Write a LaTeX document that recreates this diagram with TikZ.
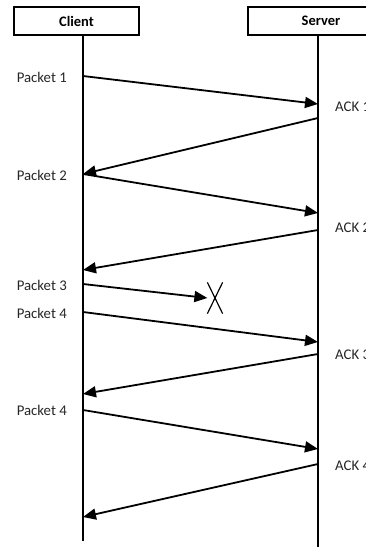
\documentclass[tikz,border=0pt]{standalone}
\usepackage{fontspec}
\setmainfont{Carlito}
\usetikzlibrary{arrows.meta,shapes.misc}

\begin{document}
\begin{tikzpicture}[x=1pt,y=-1pt,
  lifebox/.style={draw,line width=1.2pt,minimum height=28pt,inner sep=0pt,font=\fontsize{14.5}{15}\selectfont\bfseries},
  lifeline/.style={line width=1.6pt},
  msg/.style={line width=1.8pt,-{Triangle[length=13pt,width=11pt]}},
  lbl/.style={inner sep=0pt,text=black!85,font=\fontsize{14.8}{15}\selectfont},
  lost/.style={draw,cross out,line width=1.2pt,minimum width=14pt,minimum height=30pt,inner sep=0pt}]
\useasboundingbox (0,0) rectangle (365,547);

% participants
\node[lifebox,minimum width=125pt] (client) at (76.5,21) {Client};
\node[lifebox,minimum width=146pt] (server) at (321,21) {Server};

% lifelines
\coordinate (cTop) at (83,35);
\coordinate (cBot) at (83,541);
\coordinate (sTop) at (318,35);
\coordinate (sBot) at (318,547);
\draw[lifeline] (cTop) -- (cBot);
\draw[lifeline,line width=1.3pt] (sTop) -- (sBot);

% message end points on the client
\coordinate (c1) at (83,76);
\coordinate (c2) at (83,174);
\coordinate (c3) at (83,270);
\coordinate (c4) at (83,284);
\coordinate (c5) at (83,312);
\coordinate (c6) at (83,394);
\coordinate (c7) at (83,410);
\coordinate (c8) at (83,517);

% message end points on the server
\coordinate (s1) at (318,104);
\coordinate (s2) at (318,118);
\coordinate (s3) at (318,213);
\coordinate (s4) at (318,230);
\coordinate (s5) at (318,342);
\coordinate (s6) at (318,354);
\coordinate (s7) at (318,449);
\coordinate (s8) at (318,464);

% the lost packet
\node[lost] (drop) at (215,298) {};

% messages
\draw[msg] (c1) -- (s1);
\draw[msg] (s2) -- (c2);
\draw[msg] (c2) -- (s3);
\draw[msg] (s4) -- (c3);
\draw[msg] (c4) -- (drop.west);
\draw[msg] (c5) -- (s5);
\draw[msg] (s6) -- (c6);
\draw[msg] (c7) -- (s7);
\draw[msg] (s8) -- (c8);

% labels
\node[lbl,anchor=east] (lp1) at (67,77) {Packet 1};
\node[lbl,anchor=east] (lp2) at (67,175) {Packet 2};
\node[lbl,anchor=east] (lp3) at (67,285) {Packet 3};
\node[lbl,anchor=east] (lp4) at (67,313) {Packet 4};
\node[lbl,anchor=east] (lp5) at (67,410) {Packet 4};
\node[lbl,anchor=west] (la1) at (335,107) {ACK 1};
\node[lbl,anchor=west] (la2) at (335,228) {ACK 2};
\node[lbl,anchor=west] (la3) at (335,355) {ACK 3};
\node[lbl,anchor=west] (la4) at (335,466) {ACK 4};
\end{tikzpicture}
\end{document}
